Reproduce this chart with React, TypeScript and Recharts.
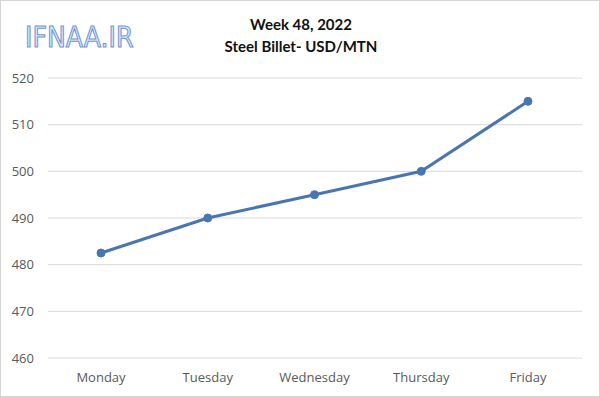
import { LineChart, Line, XAxis, YAxis, CartesianGrid } from 'recharts'

const DAYS = ['Monday', 'Tuesday', 'Wednesday', 'Thursday', 'Friday']
const PRICES = [482.5, 490, 495, 500, 515]
const Y_TICKS = [460, 470, 480, 490, 500, 510, 520]

const data = DAYS.map((day, i) => ({ day, price: PRICES[i] }))

const FONT = 'Lato, "Open Sans", sans-serif'
const TICK_FONT = '"Open Sans", sans-serif'

export default function App() {
  return (
    <div
      style={{
        position: 'absolute',
        top: 0,
        left: 0,
        width: 600,
        height: 397,
        background: '#fff',
        boxSizing: 'border-box',
        border: '1px solid #d4d4d4',
        fontFamily: FONT,
      }}
    >
      <div
        style={{
          position: 'absolute',
          left: 24,
          top: 20,
          fontSize: 28,
          fontFamily: '"DejaVu Sans Condensed", "Liberation Sans", sans-serif',
          color: '#dce8f8',
          WebkitTextStroke: '1px #6f95d0',
          letterSpacing: 0,
        }}
      >
        IFNAA.IR
      </div>
      <div
        style={{
          position: 'absolute',
          left: 0,
          width: 600,
          top: 12,
          textAlign: 'center',
          fontWeight: 'bold',
          fontSize: 15,
          lineHeight: '22px',
          color: '#111',
        }}
      >
        <div>Week 48, 2022</div>
        <div>Steel Billet- USD/MTN</div>
      </div>
      <div style={{ position: 'absolute', top: -1, left: -1 }}>
        <LineChart
          width={600}
          height={397}
          data={data}
          margin={{ top: 78, right: 18, left: 0, bottom: 0 }}
        >
          <CartesianGrid vertical={false} stroke="#d9d9d9" strokeWidth={1} />
          <XAxis
            dataKey="day"
            height={39}
            padding={{ left: 53, right: 54 }}
            axisLine={false}
            tickLine={false}
            tick={{ fill: '#595959', fontSize: 13, fontFamily: TICK_FONT }}
            tickMargin={9}
          />
          <YAxis
            width={48}
            domain={[460, 520]}
            ticks={Y_TICKS}
            axisLine={false}
            tickLine={false}
            tick={{ fill: '#595959', fontSize: 13, fontFamily: TICK_FONT }}
            tickMargin={8}
          />
          <Line
            type="linear"
            dataKey="price"
            stroke="#4a76b0"
            strokeWidth={3}
            dot={{ r: 4, fill: '#4a76b0', stroke: '#4a76b0', strokeWidth: 1 }}
            isAnimationActive={false}
          />
        </LineChart>
      </div>
    </div>
  )
}
